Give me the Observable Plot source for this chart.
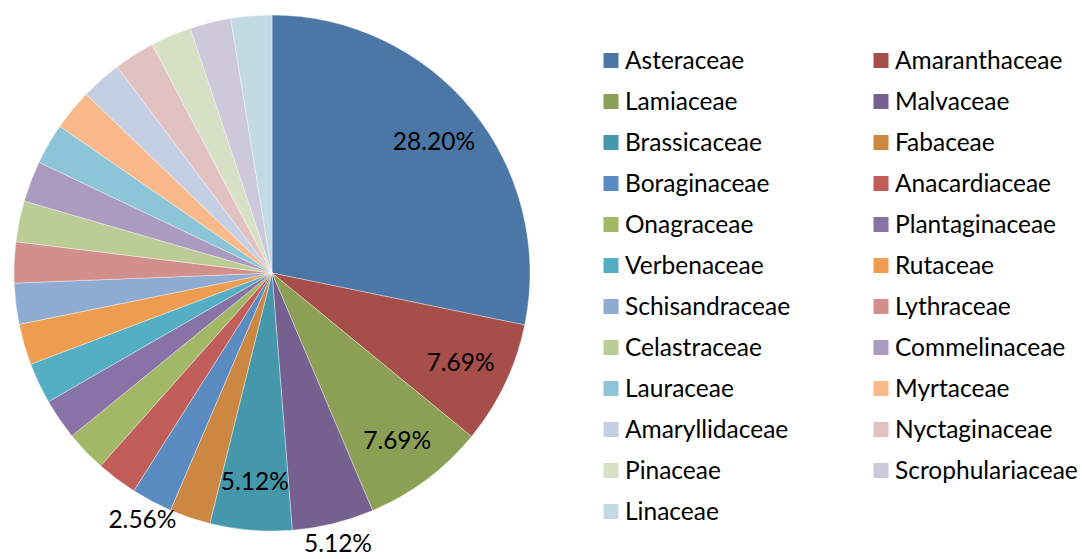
<!DOCTYPE html>
<html><head><meta charset="utf-8">
<script src="https://cdn.jsdelivr.net/npm/d3@7"></script>
<script src="https://cdn.jsdelivr.net/npm/@observablehq/plot@0.6"></script>
<style>body{margin:0;background:#fff}</style>
</head><body><div id="chart"></div>
<script>
const families = ["Asteraceae","Amaranthaceae","Lamiaceae","Malvaceae","Brassicaceae","Fabaceae","Boraginaceae","Anacardiaceae","Onagraceae","Plantaginaceae","Verbenaceae","Rutaceae","Schisandraceae","Lythraceae","Celastraceae","Commelinaceae","Lauraceae","Myrtaceae","Amaryllidaceae","Nyctaginaceae","Pinaceae","Scrophulariaceae","Linaceae"];
const shares = [28.20,7.69,7.69,5.12,5.12,2.56,2.56,2.56,2.56,2.56,2.56,2.56,2.56,2.56,2.56,2.56,2.56,2.56,2.56,2.56,2.56,2.56,2.56];
const shownLabels = ["28.20%","7.69%","7.69%","5.12%","5.12%","","2.56%","","","","","","","","","","","","","","","",""];
const labelPlacement = ["inside","inside","inside","outside","inside","","outside","","","","","","","","","","","","","","","",""];
const colors = ["#4A77A6","#A64F4A","#8BA055","#76608F","#4597AC","#CC8742","#5A8BC1","#C25E5A","#A2B866","#8872A6","#54AEC4","#EE9D50","#8EABD2","#D38F8C","#BCCC96","#AB9BC0","#8DC5D8","#F9B98B","#C4CFE3","#E2C2C1","#D7E1C6","#CEC8DB","#C2DAE3"];

const data = families.map((name, i) => ({name, share: shares[i], label: shownLabels[i], place: labelPlacement[i], col: i % 2, row: Math.floor(i / 2)}));
const colorScale = Plot.scale({color: {domain: families, range: colors}});

const FONT = 24.5;
const cx = 272, cy = 273, R = 258;
function labelRadius(d) { return d.data.place === "inside" ? R * 0.81 : R + 20; }
function pieMark() {
  const g = d3.create("svg:g");
  const arcs = d3.pie().sort(null).value(d => d.share)(data);
  const arc = d3.arc().innerRadius(0).outerRadius(R);
  g.append("g").attr("transform", `translate(${cx},${cy})`)
    .selectAll("path").data(arcs).join("path")
    .attr("d", arc)
    .attr("fill", d => colorScale.apply(d.data.name))
    .attr("stroke", "#ffffff").attr("stroke-opacity", 0.6).attr("stroke-width", 0.6);
  g.append("g").attr("transform", `translate(${cx},${cy})`)
    .selectAll("text").data(arcs.filter(d => d.data.label)).join("text")
    .attr("x", d => labelRadius(d) * Math.sin((d.startAngle + d.endAngle) / 2))
    .attr("y", d => -labelRadius(d) * Math.cos((d.startAngle + d.endAngle) / 2))
    .attr("text-anchor", "middle").attr("dy", "0.35em")
    .attr("font-family", "Lato").attr("font-size", FONT).attr("fill", "#000")
    .text(d => d.data.label);
  return g.node();
}

const chart = Plot.plot({
  width: 1082, height: 559, margin: 0,
  x: {domain: [0, 1], range: [610.5, 880.5], axis: null},
  y: {domain: [0, 11], range: [60, 511], axis: null},
  color: {domain: families, range: colors},
  style: {fontFamily: "Lato", fontSize: FONT + "px", background: "#fff"},
  marks: [
    pieMark,
    Plot.dot(data, {x: "col", y: "row", fill: "name", symbol: "square", r: 8.46}),
    Plot.text(data, {x: "col", y: "row", text: "name", dx: 14, dy: 1, textAnchor: "start", fill: "#000", fontSize: FONT, fontFamily: "Lato"})
  ]
});
document.getElementById("chart").append(chart);
</script>
</body></html>
